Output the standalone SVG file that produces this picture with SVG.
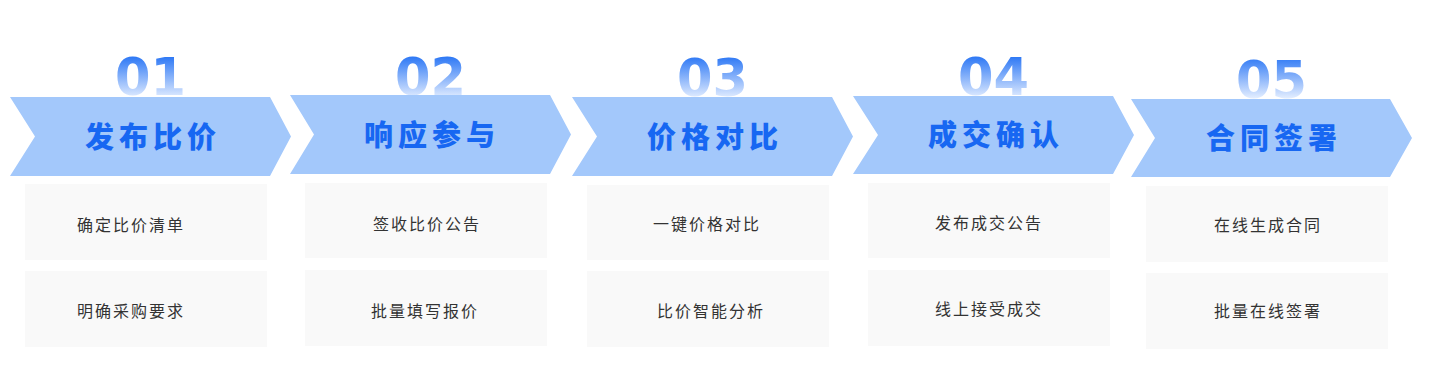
<svg xmlns="http://www.w3.org/2000/svg" width="1430" height="384" viewBox="0 0 1430 384">
<style>
.chev{fill:#a3c8fb}
.num{font-family:"DejaVu Sans","Liberation Sans",sans-serif;font-weight:bold;font-size:51px;fill:url(#numGrad);text-anchor:middle}
.title{font-family:"Noto Sans CJK SC","Liberation Sans",sans-serif;font-weight:900;font-size:29px;fill:#1767f2;text-anchor:middle;letter-spacing:5px}
.box{fill:#f9f9f9}
.item{font-family:"Noto Sans CJK SC","Liberation Sans",sans-serif;font-size:16px;fill:#333333;text-anchor:middle;letter-spacing:2px}
</style>
<defs>
<linearGradient id="numGrad" gradientUnits="userSpaceOnUse" x1="0" y1="57" x2="0" y2="98">
<stop offset="0" stop-color="#2f79f5"/>
<stop offset="1" stop-color="#e2edff"/>
</linearGradient>
</defs>
<rect width="1430" height="384" fill="#ffffff"/>
<g id="connectors"></g>
<g id="step1">
<text class="num" x="150.5" y="95">01</text>
<path class="chev" d="M10 97 L270 97 L291 136.5 L270 176 L10 176 L35 136.5 Z"/>
<text class="title" x="153" y="147.5">发布比价</text>
<rect class="box" x="25" y="184" width="242" height="76"/>
<text class="item" x="131" y="230.5">确定比价清单</text>
<rect class="box" x="25" y="271" width="242" height="76"/>
<text class="item" x="131" y="317">明确采购要求</text>
</g>
<g id="step2">
<text class="num" x="430.5" y="95">02</text>
<path class="chev" d="M290 95 L550 95 L571 134.5 L550 174 L290 174 L314 134.5 Z"/>
<text class="title" x="432" y="145.5">响应参与</text>
<rect class="box" x="305" y="183" width="242" height="75"/>
<text class="item" x="427" y="230">签收比价公告</text>
<rect class="box" x="305" y="270" width="242" height="76"/>
<text class="item" x="425" y="317">批量填写报价</text>
</g>
<g id="step3">
<text class="num" x="712.5" y="96">03</text>
<path class="chev" d="M572 97 L832 97 L853 136.5 L832 176 L572 176 L597 136.5 Z"/>
<text class="title" x="715" y="147.5">价格对比</text>
<rect class="box" x="587" y="185" width="242" height="75"/>
<text class="item" x="707" y="230">一键价格对比</text>
<rect class="box" x="587" y="271" width="242" height="76"/>
<text class="item" x="711" y="317">比价智能分析</text>
</g>
<g id="step4">
<text class="num" x="993.5" y="95">04</text>
<path class="chev" d="M853 96 L1113 96 L1134 135 L1113 174 L853 174 L878 135 Z"/>
<text class="title" x="996" y="146">成交确认</text>
<rect class="box" x="868" y="183" width="242" height="75"/>
<text class="item" x="989" y="228.5">发布成交公告</text>
<rect class="box" x="868" y="270" width="242" height="76"/>
<text class="item" x="989" y="314.5">线上接受成交</text>
</g>
<g id="step5">
<text class="num" x="1271.5" y="98">05</text>
<path class="chev" d="M1131 99 L1390 99 L1412 138 L1390 177 L1131 177 L1155 138 Z"/>
<text class="title" x="1274" y="149">合同签署</text>
<rect class="box" x="1146" y="186" width="242" height="76"/>
<text class="item" x="1268" y="230.5">在线生成合同</text>
<rect class="box" x="1146" y="273" width="242" height="76"/>
<text class="item" x="1268" y="317">批量在线签署</text>
</g>
</svg>
